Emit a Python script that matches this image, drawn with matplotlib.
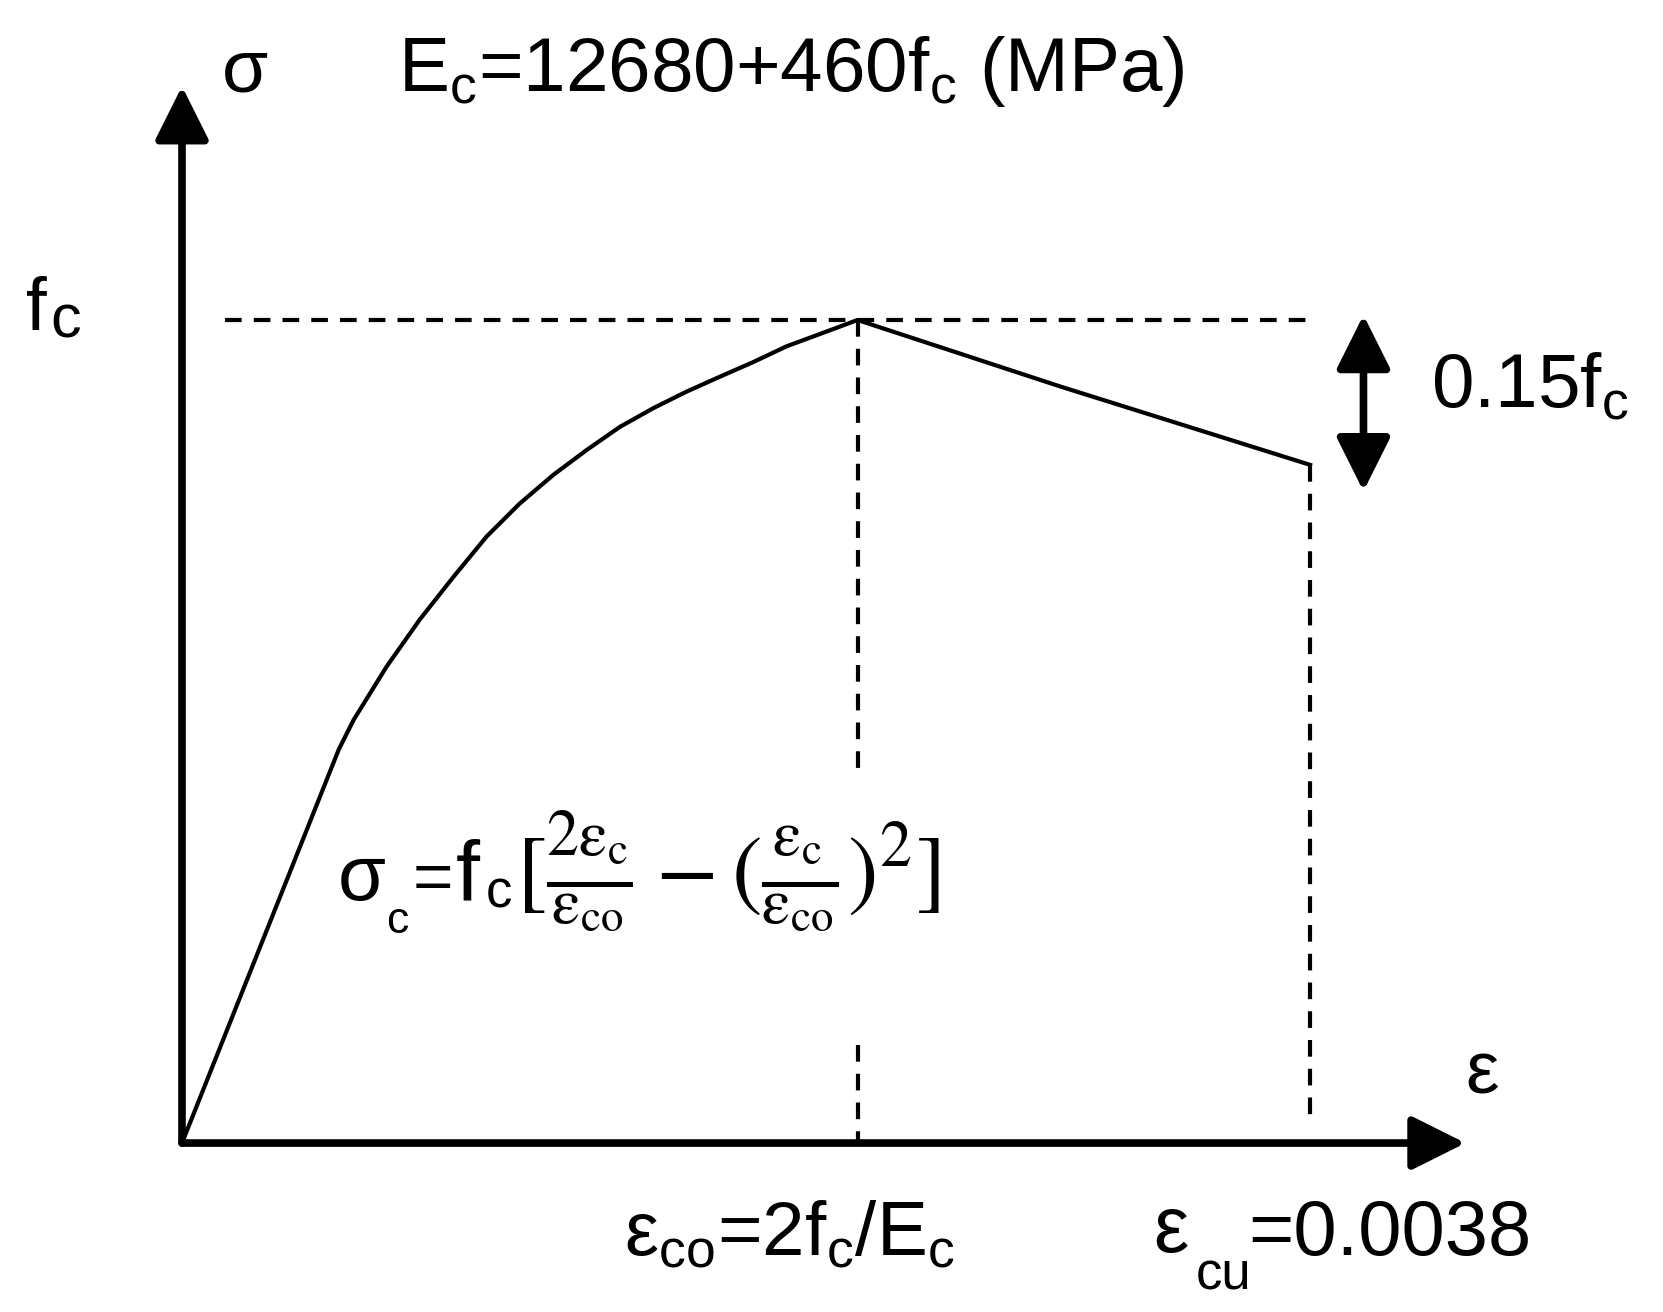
import matplotlib
matplotlib.use("Agg")
import matplotlib.pyplot as plt
from matplotlib.transforms import IdentityTransform

plt.rcParams['font.family'] = ['Liberation Sans', 'DejaVu Sans']
plt.rcParams['mathtext.fontset'] = 'custom'
plt.rcParams['mathtext.rm'] = 'Liberation Sans'
plt.rcParams['mathtext.it'] = 'Liberation Sans:italic'

# stress-strain curve (strain in units of eps_co, stress in units of f_c)
strain = [0, 0.232, 0.254, 0.303, 0.352, 0.402, 0.451, 0.500, 0.550, 0.599,
          0.648, 0.698, 0.747, 0.796, 0.846, 0.895, 0.974, 1.0, 1.301, 1.670]
stress = [0, 0.478, 0.514, 0.579, 0.636, 0.688, 0.737, 0.777, 0.812, 0.842,
          0.870, 0.893, 0.913, 0.931, 0.949, 0.968, 0.992, 1.0, 0.919, 0.824]

eps_co = 1.0
eps_cu = 1.670
f_c = 1.0
f_end = 0.824
drop_x = 1.749          # where the 0.15fc arrow sits
drop_top = 1.006
drop_bot = 0.792
x_axis_end = 1.900
y_axis_end = 1.284

W, H = 1663, 1312
fig = plt.figure(figsize=(W / 100, H / 100), dpi=100)
ax = fig.add_axes([0, 0, 1, 1])
ax.set_xlim(-0.2694, 2.1924)
ax.set_ylim(-0.2053, 1.3888)
ax.axis('off')

# axes with arrow heads
arr = dict(lw=5.5, color='k', shrinkA=0, shrinkB=0, mutation_scale=1)
head = 'head_length=33,head_width=16.5'
ax.annotate('', xy=(x_axis_end, 0), xytext=(0, 0),
            arrowprops=dict(arrowstyle='-|>,' + head, **arr))
ax.annotate('', xy=(0, y_axis_end), xytext=(0, 0),
            arrowprops=dict(arrowstyle='-|>,' + head, **arr))
ax.annotate('', xy=(drop_x, drop_bot), xytext=(drop_x, drop_top),
            arrowprops=dict(arrowstyle='<|-|>,' + head, **arr))

# the curve
ax.plot(strain, stress, color='k', lw=3.0, solid_joinstyle='round')

# dashed guides
dash = dict(color='k', lw=3, dashes=(4.0, 2.9))
ax.plot([0.064, eps_cu], [f_c, f_c], **dash)
ax.plot([eps_co, eps_co], [f_c, 0.453], **dash)
ax.plot([eps_co, eps_co], [0.119, 0], **dash)
ax.plot([eps_cu, eps_cu], [f_end, 0.022], **dash)


def label(x, y, s, size, **kw):
    # x, y in image pixels (y downward), baseline anchored
    fig.text(x, H - y, s, fontsize=size, ha='left', va='baseline',
             transform=IdentityTransform(), **kw)


label(222, 92, 'σ', 54)
label(398, 91, r'E$_\mathrm{c}$=12680+460f$_\mathrm{c}$ (MPa)', 55)
label(26, 330, 'f', 54)
label(50, 338, 'c', 44)
label(1431, 408, r'0.15f$_\mathrm{c}$', 55)
label(1465, 1093, 'ε', 54)
label(624, 1255, r'ε$_\mathrm{co}$=2f$_\mathrm{c}$/E$_\mathrm{c}$', 55)
label(1153, 1252, 'ε', 57)
label(1196, 1290, 'cu', 38)
label(1248, 1255, '=0.0038', 56)

# formula
label(338, 900, 'σ', 56)
label(386, 933, 'c', 32)
label(413, 900, '=', 50)
label(456, 900, 'f', 62)
label(486, 908, 'c', 38)
label(516, 899,
      r'$[\frac{2\mathrm{\varepsilon_c}}{\mathrm{\varepsilon_{co}}}-(\frac{\mathrm{\varepsilon_c}}{\mathrm{\varepsilon_{co}}})^2]$',
      66, math_fontfamily='stix')

fig.savefig('out.png', dpi=100, facecolor='white')
